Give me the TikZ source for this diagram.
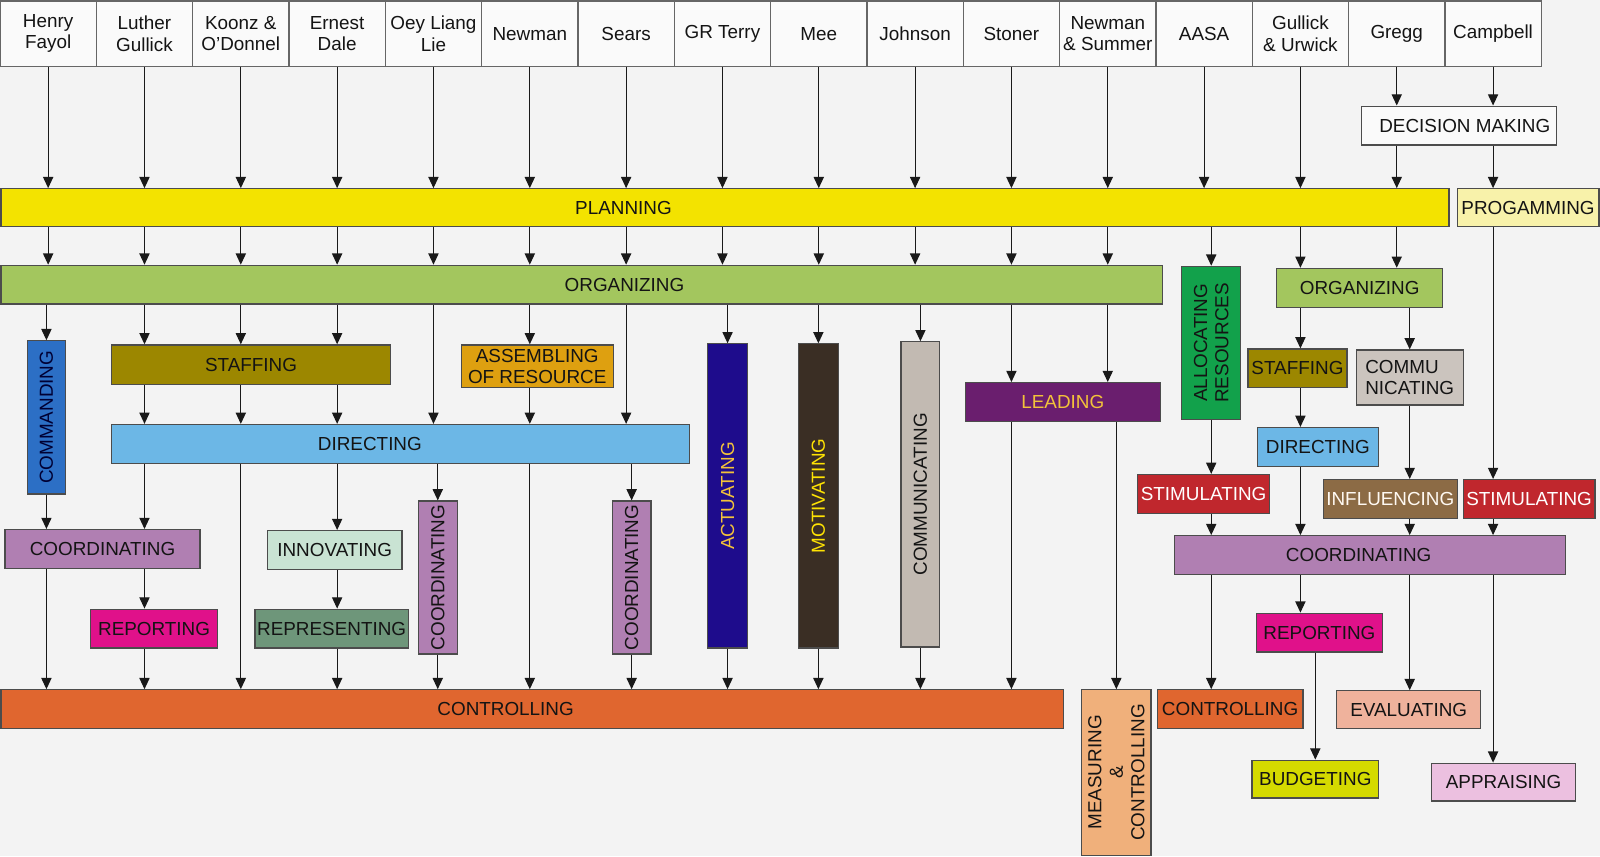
\documentclass[tikz,border=0pt]{standalone}
\usepackage{fontspec}
\setmainfont{Liberation Sans}
\usepackage{xcolor}
\usepackage{tikz}
\usetikzlibrary{arrows.meta}

\definecolor{bgcol}{HTML}{F3F3F3}
\definecolor{headcol}{HTML}{FAFAFA}
\definecolor{plancol}{HTML}{F3E300}
\definecolor{progcol}{HTML}{F8F2AA}
\definecolor{orgcol}{HTML}{A3C65E}
\definecolor{alloccol}{HTML}{12A14B}
\definecolor{commandcol}{HTML}{2C6FC5}
\definecolor{staffcol}{HTML}{9C8700}
\definecolor{assemcol}{HTML}{DEA010}
\definecolor{dircol}{HTML}{6CB7E6}
\definecolor{actcol}{HTML}{1E0C8C}
\definecolor{motcol}{HTML}{3A2E24}
\definecolor{comcol}{HTML}{C2BAB2}
\definecolor{leadcol}{HTML}{6A1E6E}
\definecolor{coordcol}{HTML}{B07FB2}
\definecolor{innocol}{HTML}{C9E3D3}
\definecolor{reprcol}{HTML}{6E967A}
\definecolor{repcol}{HTML}{E0118A}
\definecolor{ctrlcol}{HTML}{E0662F}
\definecolor{meascol}{HTML}{F0B07B}
\definecolor{stimcol}{HTML}{C0272D}
\definecolor{inflcol}{HTML}{8C6B45}
\definecolor{evalcol}{HTML}{EFB29C}
\definecolor{budgcol}{HTML}{D5DA00}
\definecolor{apprcol}{HTML}{ECC0E0}
\definecolor{goldtext}{HTML}{F2C23A}

\begin{document}
\begin{tikzpicture}[x=1pt,y=-1pt,
    every node/.style={font=\fontsize{18.5}{21}\selectfont, text=black!92},
    head/.style={draw=black!60, line width=1.3pt, fill=headcol, minimum width=94.4pt, minimum height=64pt, inner sep=0pt, align=center},
    box/.style={draw=black!70, line width=1.2pt, inner sep=0pt, align=center},
    arr/.style={-{Triangle[length=11pt,width=10pt]}, line width=1.1pt, draw=black!90}]

    \fill[bgcol] (0,0) rectangle (1568,839);
    \useasboundingbox (0,0) rectangle (1568,839);

    \node[head] (henry) at (47.2,33) {Henry\\Fayol};
    \node[head] (luther) at (141.6,33) {Luther\\Gullick};
    \node[head] (koonz) at (236,33) {Koonz \&\\O'Donnel};
    \node[head] (ernest) at (330.4,33) {Ernest\\Dale};
    \node[head] (oey) at (424.8,33) {Oey Liang\\Lie};
    \node[head] (newman) at (519.2,33) {Newman};
    \node[head] (sears) at (613.6,33) {Sears};
    \node[head] (terry) at (708,33) {GR Terry};
    \node[head] (mee) at (802.4,33) {Mee};
    \node[head] (johnson) at (896.8,33) {Johnson};
    \node[head] (stoner) at (991.2,33) {Stoner};
    \node[head] (summer) at (1085.6,33) {Newman\\\& Summer};
    \node[head] (aasa) at (1180,33) {AASA};
    \node[head] (urwick) at (1274.4,33) {Gullick\\\& Urwick};
    \node[head] (gregg) at (1368.8,33) {Gregg};
    \node[head] (campbell) at (1463.2,33) {Campbell};

    \node[box, fill=headcol, minimum width=191pt, minimum height=38pt] (decision) at (1429.5,123) {\hspace*{12pt}DECISION MAKING};
    \node[box, fill=plancol, minimum width=1419pt, minimum height=37pt, label={[xshift=-99.5pt]center:PLANNING}] (planning) at (710.5,203.5) {};
    \node[box, fill=progcol, minimum width=139pt, minimum height=37pt] (progamming) at (1497.5,203.5) {PROGAMMING};
    \node[box, fill=orgcol, minimum width=1138pt, minimum height=38pt, label={[xshift=42pt]center:ORGANIZING}] (organizing) at (570,279) {};
    \node[box, fill=alloccol, rotate=90, minimum width=150pt, minimum height=58pt] (allocating) at (1187,336) {ALLOCATING\\RESOURCES};
    \node[box, fill=orgcol, minimum width=163pt, minimum height=38pt] (org2) at (1332.5,282) {ORGANIZING};

    \node[box, fill=commandcol, rotate=90, minimum width=150pt, minimum height=37pt, text=black!80!blue] (commanding) at (45.5,409) {COMMANDING};
    \node[box, fill=staffcol, minimum width=274pt, minimum height=39pt] (staffing) at (246,357.5) {STAFFING};
    \node[box, fill=assemcol, minimum width=149pt, minimum height=42pt] (assembling) at (526.5,359) {ASSEMBLING\\OF RESOURCE};
    \node[box, fill=dircol, minimum width=567pt, minimum height=38pt, label={[xshift=-30pt]center:DIRECTING}] (directing) at (392.5,435) {};
    \node[box, fill=actcol, rotate=90, minimum width=298pt, minimum height=39pt, text=goldtext] (actuating) at (713,486) {ACTUATING};
    \node[box, fill=motcol, rotate=90, minimum width=298pt, minimum height=39pt, text=yellow!85!orange] (motivating) at (802,486) {MOTIVATING};
    \node[box, fill=comcol, rotate=90, minimum width=299pt, minimum height=38pt] (communicating) at (902,484.5) {COMMUNICATING};
    \node[box, fill=leadcol, minimum width=191pt, minimum height=38pt, text=goldtext] (leading) at (1041.5,394) {LEADING};

    \node[box, fill=coordcol, minimum width=191pt, minimum height=38pt] (coord1) at (100.5,538) {COORDINATING};
    \node[box, fill=innocol, minimum width=132pt, minimum height=38pt] (innovating) at (328,539) {INNOVATING};
    \node[box, fill=reprcol, minimum width=150pt, minimum height=38pt] (representing) at (325,616) {REPRESENTING};
    \node[box, fill=repcol, minimum width=124pt, minimum height=38pt] (reporting) at (151,616) {REPORTING};
    \node[box, fill=coordcol, rotate=90, minimum width=150pt, minimum height=38pt] (coordv1) at (429,566) {COORDINATING};
    \node[box, fill=coordcol, rotate=90, minimum width=150pt, minimum height=38pt] (coordv2) at (619,566) {COORDINATING};
    \node[box, fill=ctrlcol, minimum width=1041pt, minimum height=38pt, label={[xshift=-26pt]center:CONTROLLING}] (controlling) at (521.5,695) {};
    \node[box, fill=meascol, rotate=90, minimum width=162pt, minimum height=68pt] (measuring) at (1094,757) {MEASURING\\\&\\CONTROLLING};

    \node[box, fill=stimcol, minimum width=129pt, minimum height=38pt, text=white] (stim1) at (1179.5,484) {STIMULATING};
    \node[box, fill=staffcol, minimum width=97pt, minimum height=38pt] (staffing2) at (1271.5,361) {STAFFING};
    \node[box, fill=comcol!85!white, minimum width=105pt, minimum height=54pt, align=left] (commu2) at (1381.5,370) {COMMU\\NICATING};
    \node[box, fill=dircol, minimum width=119pt, minimum height=38pt] (directing2) at (1291.5,438) {DIRECTING};
    \node[box, fill=inflcol, minimum width=131pt, minimum height=38pt, text=white!95!orange] (influencing) at (1362.5,489) {INFLUENCING};
    \node[box, fill=stimcol, minimum width=129pt, minimum height=38pt, text=white] (stim2) at (1498.5,489) {STIMULATING};
    \node[box, fill=coordcol, minimum width=383pt, minimum height=38pt, label={[xshift=-11pt]center:COORDINATING}] (coord2) at (1342.5,544) {};
    \node[box, fill=repcol, minimum width=124pt, minimum height=38pt] (reporting2) at (1293,620) {REPORTING};
    \node[box, fill=ctrlcol, minimum width=143pt, minimum height=38pt] (controlling2) at (1205.5,695) {CONTROLLING};
    \node[box, fill=evalcol, minimum width=141pt, minimum height=37pt] (evaluating) at (1380.5,695.5) {EVALUATING};
    \node[box, fill=budgcol, minimum width=124pt, minimum height=37pt] (budgeting) at (1289,763.5) {BUDGETING};
    \node[box, fill=apprcol, minimum width=141pt, minimum height=37pt] (appraising) at (1473.5,766.5) {APPRAISING};

    \foreach \c in {henry,luther,koonz,ernest,oey,newman,sears,terry,mee,johnson,stoner,summer,aasa,urwick}
        \draw[arr] (\c) -- (\c |- planning.north);
    \foreach \c in {gregg,campbell}
        \draw[arr] (\c) -- (\c |- decision.north);
    \draw[arr] (decision.south -| gregg) -- (gregg |- planning.north);
    \draw[arr] (decision.south -| campbell) -- (campbell |- progamming.north);

    \foreach \c in {henry,luther,koonz,ernest,oey,newman,sears,terry,mee,johnson,stoner,summer}
        \draw[arr] (\c |- planning.south) -- (\c |- organizing.north);
    \draw[arr] (allocating |- planning.south) -- (allocating);
    \foreach \c in {urwick,gregg}
        \draw[arr] (\c |- planning.south) -- (\c |- org2.north);

    \draw[arr] (commanding |- organizing.south) -- (commanding);
    \foreach \c in {luther,koonz,ernest}
        \draw[arr] (\c |- organizing.south) -- (\c |- staffing.north);
    \foreach \c in {oey,sears}
        \draw[arr] (\c |- organizing.south) -- (\c |- directing.north);
    \draw[arr] (newman |- organizing.south) -- (newman |- assembling.north);
    \foreach \c in {actuating,motivating,communicating}
        \draw[arr] (\c |- organizing.south) -- (\c);
    \foreach \c in {stoner,summer}
        \draw[arr] (\c |- organizing.south) -- (\c |- leading.north);

    \foreach \c in {luther,koonz,ernest}
        \draw[arr] (\c |- staffing.south) -- (\c |- directing.north);
    \draw[arr] (newman |- assembling.south) -- (newman |- directing.north);

    \draw[arr] (commanding) -- (commanding |- coord1.north);
    \draw[arr] (luther |- directing.south) -- (luther |- coord1.north);
    \foreach \c in {koonz,newman}
        \draw[arr] (\c |- directing.south) -- (\c |- controlling.north);
    \draw[arr] (ernest |- directing.south) -- (ernest |- innovating.north);
    \foreach \c in {coordv1,coordv2}
        \draw[arr] (\c |- directing.south) -- (\c);
    \draw[arr] (luther |- coord1.south) -- (luther |- reporting.north);
    \draw[arr] (commanding |- coord1.south) -- (commanding |- controlling.north);
    \draw[arr] (luther |- reporting.south) -- (luther |- controlling.north);
    \draw[arr] (ernest |- innovating.south) -- (ernest |- representing.north);
    \draw[arr] (ernest |- representing.south) -- (ernest |- controlling.north);
    \foreach \c in {coordv1,coordv2,actuating,motivating,communicating}
        \draw[arr] (\c) -- (\c |- controlling.north);
    \draw[arr] (stoner |- leading.south) -- (stoner |- controlling.north);
    \draw[arr] (measuring |- leading.south) -- (measuring);

    \draw[arr] (allocating) -- (allocating |- stim1.north);
    \draw[arr] (urwick |- org2.south) -- (urwick |- staffing2.north);
    \draw[arr] (commu2 |- org2.south) -- (commu2.north);
    \draw[arr] (urwick |- staffing2.south) -- (urwick |- directing2.north);
    \draw[arr] (commu2) -- (commu2 |- influencing.north);
    \draw[arr] (campbell |- progamming.south) -- (campbell |- stim2.north);
    \draw[arr] (urwick |- directing2.south) -- (urwick |- coord2.north);
    \draw[arr] (allocating |- stim1.south) -- (allocating |- coord2.north);
    \draw[arr] (commu2 |- influencing.south) -- (commu2 |- coord2.north);
    \draw[arr] (campbell |- stim2.south) -- (campbell |- coord2.north);
    \draw[arr] (allocating |- coord2.south) -- (allocating |- controlling2.north);
    \draw[arr] (urwick |- coord2.south) -- (urwick |- reporting2.north);
    \draw[arr] (budgeting |- reporting2.south) -- (budgeting);
    \draw[arr] (commu2 |- coord2.south) -- (commu2 |- evaluating.north);
    \draw[arr] (campbell |- coord2.south) -- (campbell |- appraising.north);
\end{tikzpicture}
\end{document}
